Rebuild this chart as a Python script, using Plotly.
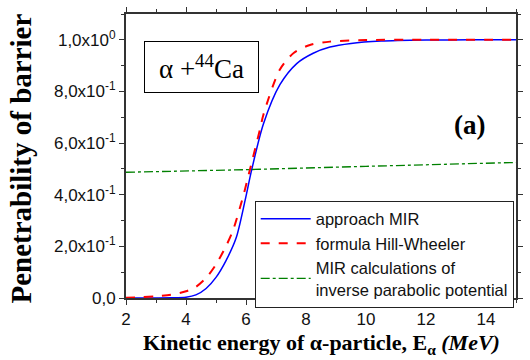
import plotly.graph_objects as go

# Data
energy_mir = [2.0, 2.5, 3.0, 3.5, 4.0, 4.33, 4.67, 5.0, 5.33, 5.67, 5.97, 6.19, 6.58, 7.13, 7.69, 8.24, 8.8, 9.5, 10.5, 12.0, 13.5, 15.0]
pen_mir = [0.0, 0.0, 0.0, 0.0005, 0.003, 0.012, 0.037, 0.08, 0.144, 0.232, 0.378, 0.497, 0.674, 0.826, 0.908, 0.948, 0.972, 0.986, 0.995, 0.999, 1.0, 1.0]

energy_hw = [2.0, 2.5, 3.0, 3.5, 4.0, 4.33, 4.67, 5.0, 5.33, 5.56, 5.91, 6.13, 6.47, 6.58, 7.13, 7.6, 8.13, 8.8, 10.0, 12.0, 15.0]
pen_hw = [0.001, 0.003, 0.007, 0.013, 0.026, 0.043, 0.078, 0.13, 0.20, 0.26, 0.396, 0.497, 0.655, 0.71, 0.885, 0.95, 0.98, 0.993, 0.999, 1.0, 1.0]

energy_par = [2.0, 6.0, 10.0, 15.0]
pen_par = [0.487, 0.497, 0.51, 0.525]

y_tickvals = [0.0, 0.2, 0.4, 0.6, 0.8, 1.0]
y_ticktext = ["0,0", "2,0x10<sup>-1</sup>", "4,0x10<sup>-1</sup>", "6,0x10<sup>-1</sup>",
              "8,0x10<sup>-1</sup>", "1,0x10<sup>0</sup>"]
x_tickvals = [2, 4, 6, 8, 10, 12, 14]

names = ["approach MIR", "formula Hill-Wheeler", "MIR calculations of<br>inverse parabolic potential"]

fig = go.Figure()
fig.add_trace(go.Scatter(x=energy_mir, y=pen_mir, mode="lines", name=names[0],
                         line=dict(color="#0000ff", width=1.5, shape="spline", smoothing=0.8)))
fig.add_trace(go.Scatter(x=energy_hw, y=pen_hw, mode="lines", name=names[1],
                         line=dict(color="#ff0000", width=2, dash="dash", shape="spline", smoothing=0.8)))
fig.add_trace(go.Scatter(x=energy_par, y=pen_par, mode="lines", name=names[2],
                         line=dict(color="#008000", width=1.3, dash="dashdot")))

axis_common = dict(showgrid=False, zeroline=False, showline=True, linecolor="#333333", linewidth=2,
                   mirror="allticks", ticks="outside", ticklen=5, tickwidth=1.2, tickcolor="#333333",
                   tickfont=dict(family="Arial, Liberation Sans", size=17, color="#111111"))

fig.update_xaxes(range=[2, 15], tickvals=x_tickvals, **axis_common,
                 minor=dict(ticks="outside", ticklen=3, dtick=1, tick0=2, tickcolor="#333333"))
fig.update_yaxes(range=[0, 1.1], tickvals=y_tickvals, ticktext=y_ticktext, **axis_common,
                 minor=dict(ticks="outside", ticklen=3, dtick=0.1, tick0=0, tickcolor="#333333"))

fig.update_layout(
    width=530, height=360,
    margin=dict(l=126, r=14, t=7, b=62),
    paper_bgcolor="white", plot_bgcolor="white",
    showlegend=True,
    legend=dict(x=0.33, y=0.343, xanchor="left", yanchor="top",
                bgcolor="white", bordercolor="#222222", borderwidth=1,
                font=dict(family="Arial, Liberation Sans", size=16.5, color="#111111"),
                tracegroupgap=0, itemwidth=50),
    annotations=[
        dict(text="α +<sup>44</sup>Ca", xref="paper", yref="paper", x=0.1936, y=0.812,
             xanchor="center", yanchor="middle", showarrow=False,
             font=dict(family="Liberation Serif", size=27, color="black"),
             bordercolor="black", borderwidth=1, borderpad=2, width=109, height=46),
        dict(text="<b>(a)</b>", xref="paper", yref="paper", x=0.882, y=0.608,
             xanchor="center", yanchor="middle", showarrow=False,
             font=dict(family="Liberation Serif", size=27, color="black")),
        dict(text="<b>Penetrability of barrier</b>", xref="paper", yref="paper",
             x=-0.27, y=0.49, xanchor="center", yanchor="middle", textangle=-90, showarrow=False,
             font=dict(family="Liberation Serif", size=29, color="black")),
        dict(text="<b>Kinetic energy of α-particle, E<sub>α</sub> <i>(MeV)</i></b>", xref="paper", yref="paper",
             x=0.5, y=-0.1615, xanchor="center", yanchor="middle", showarrow=False,
             font=dict(family="Liberation Serif", size=22, color="black")),
    ],
)

fig.write_html("out.html")
